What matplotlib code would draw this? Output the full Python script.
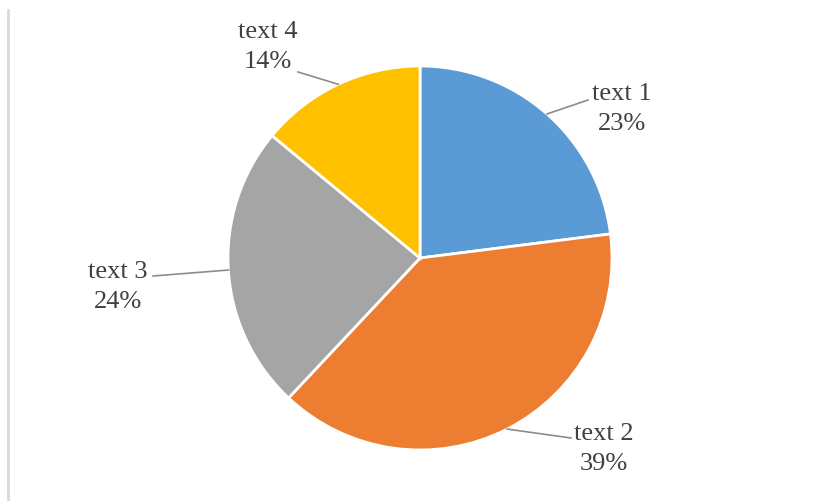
import numpy as np
import matplotlib.pyplot as plt
from matplotlib.lines import Line2D

labels = ["text 1", "text 2", "text 3", "text 4"]
shares = [23, 39, 24, 14]
colors = ["#5B9BD5", "#ED7D31", "#A5A5A5", "#FFC000"]

W, H = 827, 501
R = 192.0           # pie radius in pixels
CX, CY = 420, 258   # pie centre in pixels (from top-left)

def px(x, y):
    # pixel position (top-left origin) -> data coords of the axes
    return (x - CX) / R, (CY - y) / R

fig = plt.figure(figsize=(W / 100, H / 100), dpi=100)
ax = fig.add_axes([0, 0, 1, 1])

wedges, _ = ax.pie(shares, colors=colors, startangle=90, counterclock=False,
                   radius=1, center=(0, 0), frame=True,
                   wedgeprops=dict(edgecolor="white", linewidth=2))
ax.set_xlim(-CX / R, (W - CX) / R)
ax.set_ylim(-(H - CY) / R, CY / R)
ax.axis("off")

# label centre and leader-line end point (pixels)
label_pos = [(622, 109), (604, 449), (118, 287), (268, 47)]
leader_end = [(588, 100), (571, 438), (153, 276), (298, 72)]

for w, lab, s, (lx, ly), (ex, ey) in zip(wedges, labels, shares, label_pos, leader_end):
    mid = np.deg2rad((w.theta1 + w.theta2) / 2)
    x0, y0 = np.cos(mid), np.sin(mid)
    x1, y1 = px(ex, ey)
    ax.plot([x0, x1], [y0, y1], color="#8C8C8C", lw=1.2)
    tx, ty = px(lx, ly)
    ax.text(tx, ty, f"{lab}\n{s}%", ha="center", va="center",
            fontsize=19, family="Liberation Serif", color="#404040",
            linespacing=1.45)

fig.add_artist(Line2D([8 / W, 8 / W], [0, 1 - 10 / H], transform=fig.transFigure,
                      color="#D9D9D9", lw=2))

fig.savefig("out.png", dpi=100, facecolor="white")
